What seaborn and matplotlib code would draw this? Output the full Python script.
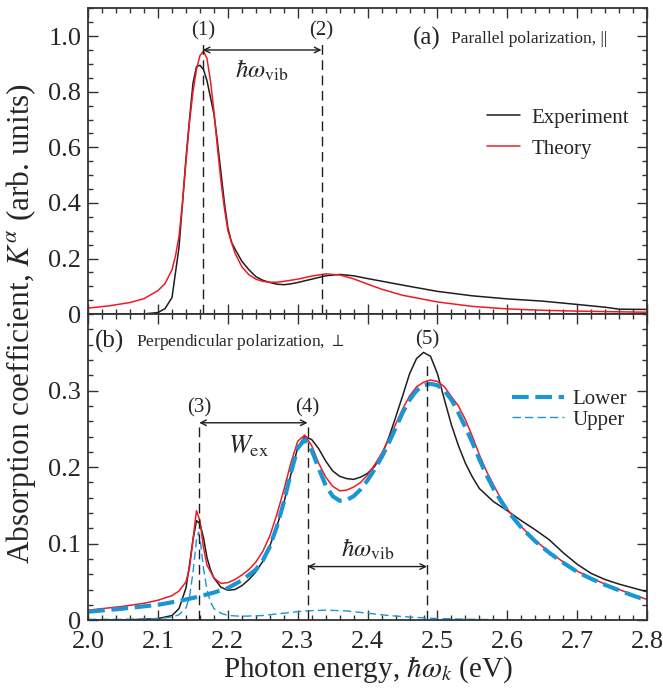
import numpy as np
import pandas as pd
import matplotlib
matplotlib.use("Agg")
import matplotlib.pyplot as plt
from matplotlib.ticker import MultipleLocator
import seaborn as sns

# ---- panel (a): parallel polarization ----
x_exp_a = [2.00, 2.05, 2.08, 2.10, 2.11, 2.12, 2.13, 2.135, 2.14, 2.145, 2.15, 2.155, 2.16,
           2.165, 2.17, 2.175, 2.18, 2.185, 2.19, 2.195, 2.20, 2.205, 2.21, 2.22, 2.23, 2.24,
           2.25, 2.26, 2.27, 2.28, 2.29, 2.30, 2.32, 2.34, 2.36, 2.38, 2.40, 2.43, 2.46, 2.50,
           2.55, 2.60, 2.65, 2.70, 2.74, 2.76, 2.80]
y_exp_a = [0.000, 0.000, 0.001, 0.006, 0.020, 0.060, 0.240, 0.400, 0.560, 0.700, 0.830, 0.890, 0.895,
           0.880, 0.840, 0.780, 0.720, 0.620, 0.510, 0.400, 0.310, 0.260, 0.235, 0.190, 0.160, 0.135,
           0.122, 0.114, 0.108, 0.106, 0.109, 0.114, 0.126, 0.138, 0.143, 0.138, 0.128, 0.114, 0.100, 0.082,
           0.066, 0.055, 0.047, 0.035, 0.025, 0.018, 0.017]

x_th_a = [2.00, 2.03, 2.06, 2.08, 2.10, 2.11, 2.12, 2.125, 2.13, 2.135, 2.14, 2.145, 2.15, 2.155,
          2.16, 2.165, 2.17, 2.175, 2.18, 2.185, 2.19, 2.195, 2.20, 2.21, 2.22, 2.23, 2.24, 2.25,
          2.26, 2.27, 2.28, 2.30, 2.32, 2.34, 2.36, 2.38, 2.40, 2.42, 2.45, 2.50, 2.55, 2.60, 2.65,
          2.70, 2.75, 2.80]
y_th_a = [0.022, 0.030, 0.042, 0.056, 0.085, 0.110, 0.160, 0.210, 0.280, 0.400, 0.550, 0.690, 0.800, 0.880,
          0.930, 0.945, 0.920, 0.840, 0.730, 0.600, 0.480, 0.380, 0.300, 0.220, 0.170, 0.142, 0.126, 0.118,
          0.115, 0.115, 0.118, 0.126, 0.137, 0.145, 0.141, 0.127, 0.108, 0.090, 0.068, 0.044, 0.028, 0.019, 0.014,
          0.011, 0.009, 0.007]

# ---- panel (b): perpendicular polarization ----
x_exp_b = [2.00, 2.05, 2.10, 2.12, 2.13, 2.14, 2.145, 2.15, 2.155, 2.16, 2.165, 2.17, 2.175, 2.18,
           2.19, 2.20, 2.21, 2.22, 2.23, 2.24, 2.25, 2.26, 2.27, 2.28, 2.29, 2.30, 2.31, 2.32, 2.33,
           2.34, 2.35, 2.36, 2.37, 2.38, 2.39, 2.40, 2.41, 2.42, 2.43, 2.44, 2.45, 2.46, 2.47, 2.48,
           2.49, 2.50, 2.51, 2.52, 2.53, 2.54, 2.55, 2.56, 2.58, 2.60, 2.62, 2.64, 2.66, 2.68, 2.70,
           2.72, 2.74, 2.76, 2.78, 2.80]
y_exp_b = [0.000, 0.000, 0.002, 0.006, 0.015, 0.042, 0.072, 0.105, 0.130, 0.126, 0.108, 0.082, 0.066, 0.055,
           0.043, 0.039, 0.040, 0.045, 0.053, 0.063, 0.077, 0.097, 0.122, 0.153, 0.190, 0.226, 0.240, 0.236, 0.224,
           0.208, 0.195, 0.188, 0.185, 0.184, 0.187, 0.192, 0.201, 0.215, 0.238, 0.265, 0.293, 0.322, 0.342, 0.350,
           0.345, 0.322, 0.288, 0.255, 0.228, 0.205, 0.187, 0.172, 0.155, 0.143, 0.130, 0.118, 0.105, 0.088, 0.073,
           0.061, 0.053, 0.047, 0.042, 0.037]

x_th_b = [2.00, 2.05, 2.08, 2.10, 2.12, 2.13, 2.14, 2.145, 2.15, 2.155, 2.16, 2.165, 2.17, 2.18,
          2.19, 2.20, 2.21, 2.22, 2.23, 2.24, 2.25, 2.26, 2.27, 2.28, 2.29, 2.30, 2.31, 2.32, 2.33,
          2.34, 2.35, 2.36, 2.37, 2.38, 2.39, 2.40, 2.41, 2.42, 2.43, 2.44, 2.45, 2.46, 2.47, 2.48,
          2.49, 2.50, 2.51, 2.52, 2.53, 2.54, 2.55, 2.56, 2.57, 2.58, 2.59, 2.60, 2.62, 2.64, 2.66,
          2.68, 2.70, 2.72, 2.74, 2.76, 2.78, 2.80]
y_th_b = [0.013, 0.018, 0.022, 0.026, 0.032, 0.038, 0.050, 0.068, 0.105, 0.143, 0.130, 0.095, 0.072, 0.055,
          0.048, 0.049, 0.053, 0.059, 0.066, 0.076, 0.090, 0.110, 0.138, 0.170, 0.205, 0.234, 0.242, 0.228, 0.205,
          0.187, 0.175, 0.169, 0.170, 0.174, 0.180, 0.190, 0.203, 0.218, 0.236, 0.256, 0.276, 0.293, 0.305, 0.311,
          0.314, 0.312, 0.305, 0.292, 0.280, 0.262, 0.240, 0.216, 0.195, 0.177, 0.160, 0.145, 0.122, 0.104, 0.089,
          0.076, 0.064, 0.055, 0.047, 0.040, 0.033, 0.027]

x_lower = [2.00, 2.05, 2.10, 2.13, 2.155, 2.18, 2.20, 2.22, 2.24, 2.25, 2.26, 2.27, 2.28, 2.29,
           2.30, 2.31, 2.32, 2.33, 2.34, 2.35, 2.36, 2.37, 2.38, 2.39, 2.40, 2.41, 2.42, 2.43, 2.44,
           2.45, 2.46, 2.47, 2.48, 2.49, 2.50, 2.51, 2.52, 2.53, 2.54, 2.55, 2.56, 2.57, 2.58, 2.59,
           2.60, 2.62, 2.64, 2.66, 2.68, 2.70, 2.72, 2.74, 2.76, 2.78, 2.80]
y_lower = [0.011, 0.015, 0.020, 0.025, 0.030, 0.036, 0.042, 0.052, 0.066, 0.078, 0.096, 0.122, 0.154, 0.192,
           0.225, 0.236, 0.222, 0.198, 0.176, 0.162, 0.156, 0.157, 0.162, 0.171, 0.183, 0.197, 0.213, 0.231, 0.251,
           0.271, 0.288, 0.300, 0.307, 0.309, 0.307, 0.300, 0.288, 0.271, 0.252, 0.232, 0.210, 0.190, 0.172, 0.157,
           0.143, 0.121, 0.103, 0.088, 0.075, 0.063, 0.054, 0.046, 0.039, 0.032, 0.026]

x_upper = [2.00, 2.05, 2.10, 2.12, 2.13, 2.14, 2.145, 2.15, 2.155, 2.158, 2.161, 2.165, 2.17, 2.175,
           2.18, 2.19, 2.20, 2.22, 2.25, 2.28, 2.31, 2.34, 2.37, 2.40, 2.43, 2.46, 2.50, 2.55, 2.60, 2.80]
y_upper = [0.001, 0.001, 0.002, 0.004, 0.007, 0.016, 0.030, 0.062, 0.105, 0.115, 0.100, 0.068, 0.040, 0.024,
           0.015, 0.009, 0.006, 0.005, 0.006, 0.009, 0.012, 0.013, 0.012, 0.009, 0.006, 0.004, 0.002, 0.001, 0.0005, 0.0]

# annotation positions (eV)
lines_a = [2.164, 2.334]
lines_b = [2.159, 2.314, 2.485]

black = "#1e1e1e"
red = "#ec1c24"
blue = "#1a96d4"

sns.set_style("ticks")
plt.rcParams["font.family"] = ["Liberation Serif", "DejaVu Serif"]
plt.rcParams["mathtext.fontset"] = "stix"

fig = plt.figure(figsize=(6.63, 6.89), dpi=100)
gs = fig.add_gridspec(2, 1, left=0.133, right=0.976, top=0.988, bottom=0.100, hspace=0)
ax1 = fig.add_subplot(gs[0])
ax2 = fig.add_subplot(gs[1], sharex=ax1)

# panel (a)
sns.lineplot(x=x_exp_a, y=y_exp_a, ax=ax1, color=black, lw=1.1, label="Experiment", sort=False)
sns.lineplot(x=x_th_a, y=y_th_a, ax=ax1, color=red, lw=1.1, label="Theory", sort=False)
ax1.vlines(lines_a, 0, 0.97, colors=black, lw=1, linestyles=(0, (7, 4)))
for lbl, xv in zip(["(1)", "(2)"], lines_a):
    ax1.text(xv, 1.02, lbl, ha="center", va="center", fontsize=15)
ax1.annotate("", xy=(lines_a[1], 0.95), xytext=(lines_a[0], 0.95),
             arrowprops=dict(arrowstyle="<->", lw=1, color=black, shrinkA=0, shrinkB=0))
ax1.text(2.249, 0.875, r"$\hbar\omega_{\rm vib}$", ha="center", va="center", fontsize=18)
ax1.text(2.465, 0.99, "(a)", ha="left", va="center", fontsize=18)
ax1.text(2.52, 0.99, "Parallel polarization, ||", ha="left", va="center", fontsize=12.5)
ax1.legend(loc="upper left", bbox_to_anchor=(0.68, 0.735), frameon=False, fontsize=15,
           handlelength=1.6, handletextpad=0.55, labelspacing=0.55)

ax1.set_ylim(0, 1.1)
ax1.yaxis.set_minor_locator(MultipleLocator(0.05))
ax1.set_yticks([0, 0.2, 0.4, 0.6, 0.8, 1.0])
ax1.set_yticklabels(["0", "0.2", "0.4", "0.6", "0.8", "1.0"])
ax1.tick_params(labelbottom=False)

# panel (b)
sns.lineplot(x=x_exp_b, y=y_exp_b, ax=ax2, color=black, lw=1.1, sort=False)
sns.lineplot(x=x_th_b, y=y_th_b, ax=ax2, color=red, lw=1.1, sort=False)
sns.lineplot(x=x_lower, y=y_lower, ax=ax2, color=blue, lw=3, label="Lower", sort=False)
ax2.lines[-1].set_dashes([4, 1.6])
sns.lineplot(x=x_upper, y=y_upper, ax=ax2, color=blue, lw=1, label="Upper", sort=False)
ax2.lines[-1].set_dashes([6, 3])
ax2.vlines(lines_b[:2], 0, 0.259, colors=black, lw=1, linestyles=(0, (7, 4)))
ax2.vlines(lines_b[2:], 0, 0.34, colors=black, lw=1, linestyles=(0, (7, 4)))
ax2.text(lines_b[0], 0.277, "(3)", ha="center", va="center", fontsize=15)
ax2.text(lines_b[1], 0.277, "(4)", ha="center", va="center", fontsize=15)
ax2.text(lines_b[2], 0.366, "(5)", ha="center", va="center", fontsize=15)
ax2.annotate("", xy=(lines_b[1], 0.258), xytext=(lines_b[0], 0.258),
             arrowprops=dict(arrowstyle="<->", lw=1, color=black, shrinkA=0, shrinkB=0))
ax2.annotate("", xy=(lines_b[2], 0.07), xytext=(lines_b[1], 0.07),
             arrowprops=dict(arrowstyle="<->", lw=1, color=black, shrinkA=0, shrinkB=0))
ax2.text(2.23, 0.228, r"$W_{\rm ex}$", ha="center", va="center", fontsize=19)
ax2.text(2.40, 0.093, r"$\hbar\omega_{\rm vib}$", ha="center", va="center", fontsize=18)
ax2.text(2.01, 0.364, "(b)", ha="left", va="center", fontsize=18)
ax2.text(2.068, 0.364, r"Perpendicular polarization, $\perp$", ha="left", va="center", fontsize=12.5)
ax2.legend(loc="upper left", bbox_to_anchor=(0.725, 0.815), frameon=False, fontsize=15,
           handlelength=2.5, handletextpad=0.4, labelspacing=0.05)

ax2.set_ylim(0, 0.4)
ax2.set_yticks([0, 0.1, 0.2, 0.3])
ax2.set_yticklabels(["0", "0.1", "0.2", "0.3"])
ax2.yaxis.set_minor_locator(MultipleLocator(0.02))
ax2.set_xlim(2.0, 2.8)
ax2.xaxis.set_minor_locator(MultipleLocator(0.02))
ax2.set_xticks([2.0, 2.1, 2.2, 2.3, 2.4, 2.5, 2.6, 2.7, 2.8])
ax2.set_xticklabels(["2.0", "2.1", "2.2", "2.3", "2.4", "2.5", "2.6", "2.7", "2.8"])
ax2.set_xlabel(r"Photon energy, $\hbar\omega_k$ (eV)", fontsize=21, labelpad=1)

for ax in (ax1, ax2):
    ax.tick_params(which="both", direction="in", top=True, right=True, width=1, color="#333333")
    ax.tick_params(which="major", length=7, labelsize=19, pad=5)
    ax.tick_params(which="minor", length=3.5)
    for sp in ax.spines.values():
        sp.set_linewidth(1.3)
        sp.set_color("#333333")
    ax.set_ylabel("")
ax2.tick_params(axis="x", which="major", pad=8)

fig.text(0.032, 0.53, r"Absorption coefficient, $K^{\alpha}$ (arb. units)", rotation=90,
         ha="center", va="center", fontsize=22.5)

fig.savefig("out.png", dpi=100)
